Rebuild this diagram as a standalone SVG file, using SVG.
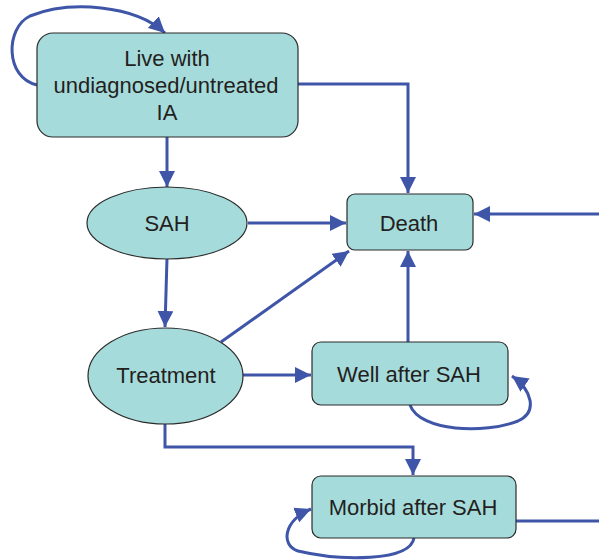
<svg xmlns="http://www.w3.org/2000/svg" width="599" height="560" viewBox="0 0 599 560">
<style>
.node{fill:#a6dbdc;stroke:#2b2b2b;stroke-width:1.2}
.lbl{font-family:"Liberation Sans",Arial,sans-serif;font-size:22px;fill:#231f20;text-anchor:middle}
.c{fill:none;stroke:#3f56a8;stroke-width:3}
</style>
<defs>
<marker id="a" viewBox="0 0 10 10" refX="10" refY="5" markerWidth="16" markerHeight="16" markerUnits="userSpaceOnUse" orient="auto">
<path d="M0,0 L10,5 L0,10 z" fill="#3f56a8"/>
</marker>
</defs>
<rect width="599" height="560" fill="#fff"/>
<g id="connectors">
<path class="c" d="M37,85 C5,78 5,28 30,16 C70,0 135,5 165,33" marker-end="url(#a)"/>
<path class="c" d="M298,84 H408 V193" marker-end="url(#a)"/>
<path class="c" d="M167,137 V187" marker-end="url(#a)"/>
<path class="c" d="M248,223 H346" marker-end="url(#a)"/>
<path class="c" d="M167,258 L165,327" marker-end="url(#a)"/>
<path class="c" d="M221,342 L349,251" marker-end="url(#a)"/>
<path class="c" d="M243,375 H311" marker-end="url(#a)"/>
<path class="c" d="M408,342 V251" marker-end="url(#a)"/>
<path class="c" d="M410,405 C420,432 485,434 518,421 C538,412 532,390 512,376" marker-end="url(#a)"/>
<path class="c" d="M165,424 V447 H413 V475" marker-end="url(#a)"/>
<path class="c" d="M599,214 H474" marker-end="url(#a)"/>
<path class="c" d="M516,521 H599"/>
<path class="c" d="M414,538 C410,562 340,561 298,551 C280,545 284,520 311,509" marker-end="url(#a)"/>
</g>
<g id="live">
<rect class="node" x="37" y="33" width="261" height="104" rx="16"/>
<text class="lbl" x="167" y="66">Live with</text>
<text class="lbl" x="166" y="93">undiagnosed/untreated</text>
<text class="lbl" x="167" y="120">IA</text>
</g>
<g id="sah">
<ellipse class="node" cx="167" cy="223" rx="80" ry="36"/>
<text class="lbl" x="167" y="231">SAH</text>
</g>
<g id="death">
<rect class="node" x="347" y="194" width="126" height="56" rx="8"/>
<text class="lbl" x="409" y="231">Death</text>
</g>
<g id="treatment">
<ellipse class="node" cx="165.5" cy="376" rx="77.5" ry="48"/>
<text class="lbl" x="166" y="383">Treatment</text>
</g>
<g id="well">
<rect class="node" x="312" y="342" width="196" height="63" rx="9"/>
<text class="lbl" x="409" y="382">Well after SAH</text>
</g>
<g id="morbid">
<rect class="node" x="312" y="476" width="204" height="62" rx="9"/>
<text class="lbl" x="413" y="515">Morbid after SAH</text>
</g>
</svg>
